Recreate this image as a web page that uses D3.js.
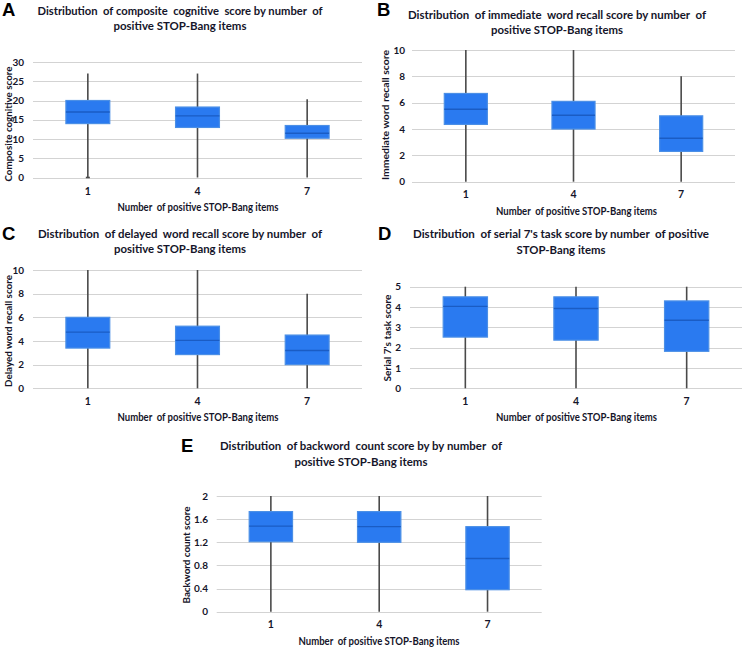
<!DOCTYPE html>
<html><head><meta charset="utf-8">
<script src="https://cdn.jsdelivr.net/npm/d3@7"></script>
<style>body{margin:0;background:#fff}svg{display:block}</style>
</head><body>
<script>
// ---- data ----
const categories = ["1", "4", "7"];
// [min, q1, median, q3, max] per category
const compositeStats = [[0, 14, 17, 20, 27], [0, 13, 16, 18.3, 27], [0, 10.2, 11.5, 13.5, 20.3]];
const immediateStats = [[0, 4.35, 5.5, 6.7, 10], [0, 4.0, 5.05, 6.1, 10], [0, 2.3, 3.3, 5.0, 8]];
const delayedStats = [[0, 3.4, 4.75, 6.0, 10], [0, 2.85, 4.05, 5.25, 10], [0, 2.0, 3.2, 4.5, 8]];
const serialStats = [[0, 2.52, 4.03, 4.5, 5], [0, 2.37, 3.93, 4.5, 5], [0, 1.82, 3.35, 4.3, 5]];
const backwordStats = [[0, 1.21, 1.48, 1.73, 2], [0, 1.2, 1.47, 1.73, 2], [0, 0.38, 0.92, 1.47, 2]];
const compositeTicks = [0, 5, 10, 15, 20, 25, 30];
const immediateTicks = [0, 2, 4, 6, 8, 10];
const delayedTicks = [0, 2, 4, 6, 8, 10];
const serialTicks = [0, 1, 2, 3, 4, 5];
const backwordTicks = [0, 0.4, 0.8, 1.2, 1.6, 2];
const xTitle = "Number  of positive STOP-Bang items";

const W = 745, H = 648;
const svg = d3.select("body").append("svg").attr("width", W).attr("height", H);
const FONT = "Lato, 'Open Sans', sans-serif";

const panels = [
  {letter: "A", lx: 2, ly: 15.5, t1: "Distribution  of composite  cognitive  score by number  of", t2: "positive STOP-Bang items",
   tx: 180, ty1: 14.5, ty2: 30, tw1: 285, tw2: 133,
   x0: 33, x1: 362, yTop: 62, yBot: 177.5, stats: compositeStats, ticks: compositeTicks,
   tickX: 24, yTitle: "Composite cognitive score", ytx: 8.5, yty: 124, ytw: 115,
   xlY: 195.5, xtY: 210.5, xtX: 198, cap: true},
  {letter: "B", lx: 377, ly: 16, t1: "Distribution  of immediate  word recall score by number  of", t2: "positive STOP-Bang items",
   tx: 557, ty1: 19, ty2: 34, tw1: 298, tw2: 132,
   x0: 412, x1: 735, yTop: 50, yBot: 181.7, stats: immediateStats, ticks: immediateTicks,
   tickX: 405, yTitle: "Immediate word recall score", ytx: 386, yty: 115, ytw: 130,
   xlY: 199, xtY: 214.5, xtX: 576.5},
  {letter: "C", lx: 2, ly: 239.5, t1: "Distribution  of delayed  word recall score by number  of", t2: "positive STOP-Bang items",
   tx: 180, ty1: 237.5, ty2: 252.5, tw1: 284, tw2: 132,
   x0: 33, x1: 362, yTop: 270, yBot: 388.3, stats: delayedStats, ticks: delayedTicks,
   tickX: 24, yTitle: "Delayed word recall score", ytx: 8.5, yty: 331, ytw: 112,
   xlY: 405.5, xtY: 420.5, xtX: 198},
  {letter: "D", lx: 378, ly: 239.5, t1: "Distribution  of serial 7's task score by number  of positive", t2: "STOP-Bang items",
   tx: 561, ty1: 238, ty2: 253.5, tw1: 296, tw2: 89,
   x0: 410, x1: 742, yTop: 286.7, yBot: 388.3, stats: serialStats, ticks: serialTicks,
   tickX: 401, yTitle: "Serial 7's task score", ytx: 387.5, yty: 338, ytw: 87,
   xlY: 405.5, xtY: 421, xtX: 576.5},
  {letter: "E", lx: 181, ly: 451.5, t1: "Distribution  of backword  count score by by number  of", t2: "positive STOP-Bang items",
   tx: 361, ty1: 449.5, ty2: 465.5, tw1: 282, tw2: 133,
   x0: 216.7, x1: 541.7, yTop: 496, yBot: 611.7, stats: backwordStats, ticks: backwordTicks,
   tickX: 208, yTitle: "Backword count score", ytx: 187, yty: 555, ytw: 97,
   xlY: 629, xtY: 644.5, xtX: 379}
];

const ink = "#15152a";

panels.forEach(p => {
  const g = svg.append("g");
  // panel letter
  g.append("text").attr("x", p.lx).attr("y", p.ly).text(p.letter)
    .attr("font-family", "Arial, 'Liberation Sans', sans-serif").attr("font-weight", "bold")
    .attr("font-size", 18.5).attr("fill", "#000");
  // title
  [[p.t1, p.ty1, p.tw1], [p.t2, p.ty2, p.tw2]].forEach(([t, y, w]) => {
    g.append("text").attr("x", p.tx).attr("y", y).attr("text-anchor", "middle")
      .attr("font-family", FONT).attr("font-weight", "bold").attr("font-size", 11.5)
      .attr("fill", ink).attr("textLength", w).attr("lengthAdjust", "spacingAndGlyphs")
      .attr("xml:space", "preserve").text(t);
  });
  const maxT = p.ticks[p.ticks.length - 1];
  const y = d3.scaleLinear().domain([0, maxT]).range([p.yBot, p.yTop]);
  const x = d3.scaleBand().domain(categories).range([p.x0, p.x1]).paddingInner(0.6).paddingOuter(0.3);

  // grid
  g.selectAll(".grid").data(p.ticks).enter().append("line")
    .attr("x1", p.x0).attr("x2", p.x1)
    .attr("y1", d => Math.round(y(d)) + 0.5).attr("y2", d => Math.round(y(d)) + 0.5)
    .attr("stroke", "#d3d3d3").attr("stroke-width", 1.1);

  // y axis tick labels via d3 axis
  const ya = d3.axisLeft(y).tickValues(p.ticks).tickSize(0).tickPadding(0)
    .tickFormat(d => d3.format("~g")(d));
  const yg = g.append("g").attr("transform", `translate(${p.tickX},0)`).call(ya);
  yg.select(".domain").remove();
  yg.selectAll("text").attr("font-family", FONT).attr("font-weight", "bold")
    .attr("font-size", 10).attr("fill", ink);

  // x axis labels
  const xa = d3.axisBottom(x).tickSize(0).tickPadding(0);
  const xg = g.append("g").attr("transform", `translate(0,${p.xlY - 8})`).call(xa);
  xg.select(".domain").remove();
  xg.selectAll("text").attr("font-family", FONT).attr("font-weight", "bold")
    .attr("font-size", 10.5).attr("fill", ink).attr("dy", "0.71em");

  // x title
  g.append("text").attr("x", p.xtX).attr("y", p.xtY).attr("text-anchor", "middle")
    .attr("font-family", FONT).attr("font-weight", "bold").attr("font-size", 10.5)
    .attr("fill", ink).attr("textLength", 161).attr("lengthAdjust", "spacingAndGlyphs")
    .attr("xml:space", "preserve").text(xTitle);
  // y title
  g.append("text").attr("transform", `translate(${p.ytx},${p.yty}) rotate(-90)`)
    .attr("text-anchor", "middle").attr("dy", "0.35em")
    .attr("font-family", FONT).attr("font-weight", "bold").attr("font-size", 9.5)
    .attr("fill", ink).attr("textLength", p.ytw).attr("lengthAdjust", "spacingAndGlyphs")
    .text(p.yTitle);

  // boxes
  const bx = g.selectAll(".box").data(p.stats.map((s, i) => ({cat: categories[i], s}))).enter().append("g");
  bx.append("line")
    .attr("x1", d => x(d.cat) + x.bandwidth() / 2).attr("x2", d => x(d.cat) + x.bandwidth() / 2)
    .attr("y1", d => y(d.s[0])).attr("y2", d => y(d.s[4]))
    .attr("stroke", "#4a4a4a").attr("stroke-width", 1.6);
  bx.append("rect")
    .attr("x", d => x(d.cat)).attr("width", x.bandwidth())
    .attr("y", d => y(d.s[3])).attr("height", d => y(d.s[1]) - y(d.s[3]))
    .attr("fill", "#2a7af0").attr("stroke", "#4b8fe6").attr("stroke-width", 1.2);
  bx.append("line")
    .attr("x1", d => x(d.cat)).attr("x2", d => x(d.cat) + x.bandwidth())
    .attr("y1", d => y(d.s[2])).attr("y2", d => y(d.s[2]))
    .attr("stroke", "#1a5cc4").attr("stroke-width", 1.4);
  if (p.cap) {
    bx.filter((d, i) => i === 0).append("line")
      .attr("x1", d => x(d.cat) + x.bandwidth() / 2 - 2).attr("x2", d => x(d.cat) + x.bandwidth() / 2 + 2)
      .attr("y1", d => y(d.s[0])).attr("y2", d => y(d.s[0]))
      .attr("stroke", "#4a4a4a").attr("stroke-width", 1.6);
  }
});
</script>
</body></html>
